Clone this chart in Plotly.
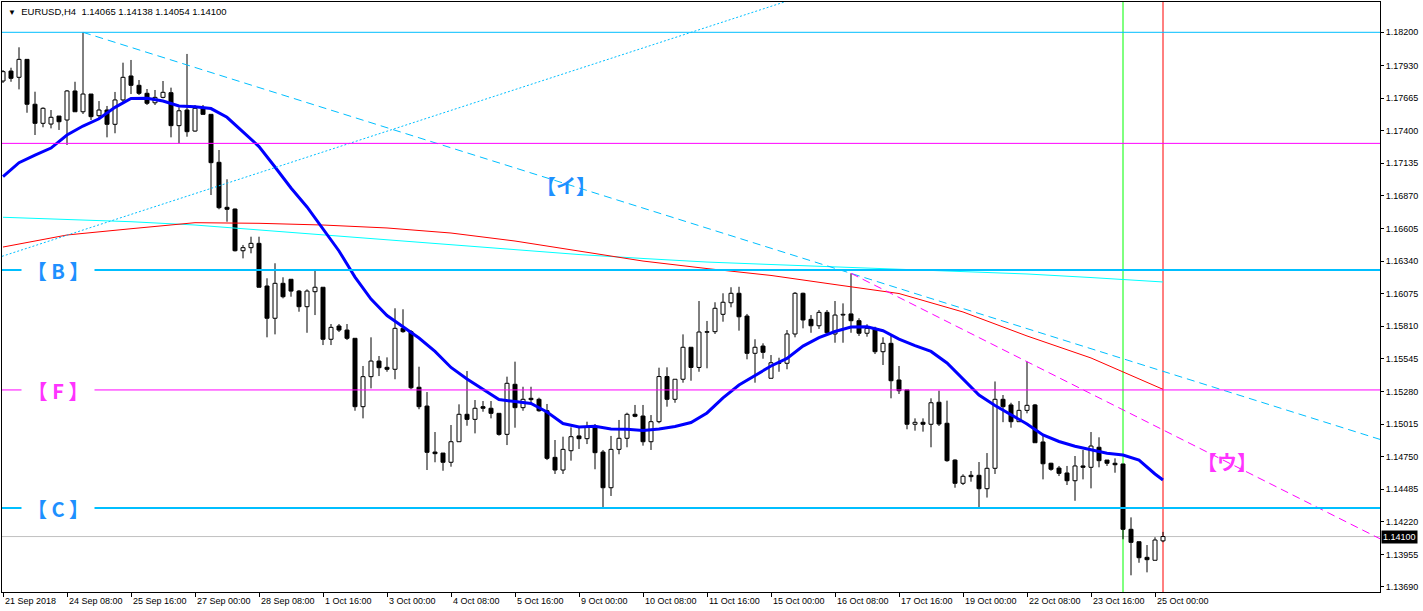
import plotly.graph_objects as go

# ---------------- data ----------------
bars = list(range(146))
open_ = [1.17804,1.17885,1.17834,1.17980,1.17615,1.17460,1.17454,1.17519,1.17487,1.17723,
         1.17554,1.17698,1.17522,1.17568,1.17452,1.17650,1.17845,1.17769,1.17704,1.17627,
         1.17671,1.17709,1.17441,1.17568,1.17397,1.17582,1.17533,1.17143,1.16777,1.16763,
         1.16424,1.16449,1.16484,1.16137,1.15875,1.16159,1.16192,1.16096,1.15969,1.16091,
         1.16127,1.15704,1.15812,1.15779,1.15712,1.15156,1.15400,1.15527,1.15476,1.15460,
         1.15793,1.15766,1.15314,1.15161,1.14787,1.14779,1.14704,1.14871,1.15094,1.15053,
         1.15156,1.15143,1.15102,1.14931,1.15338,1.15148,1.15224,1.15216,1.15123,1.14744,
         1.14641,1.14798,1.14918,1.14896,1.14993,1.14787,1.14497,1.14809,1.14899,1.15094,
         1.15080,1.14871,1.15034,1.15401,1.15216,1.15379,1.15639,1.15475,1.15761,1.15766,
         1.15907,1.16001,1.16078,1.15893,1.15590,1.15649,1.15387,1.15513,1.15509,1.15747,
         1.16078,1.15866,1.15814,1.15923,1.15747,1.15901,1.15910,1.15855,1.15753,1.15793,
         1.15603,1.15671,1.15373,1.15292,1.15013,1.15029,1.15013,1.15192,1.15021,1.14722,
         1.14533,1.14598,1.14598,1.14489,1.14655,1.15216,1.15170,1.15034,1.15126,1.15170,
         1.14869,1.14696,1.14657,1.14617,1.14554,1.14674,1.14663,1.14826,1.14722,1.14696,
         1.14690,1.14159,1.14058,1.13931,1.13907,1.14065]
high_ = [1.17893,1.17912,1.18078,1.17980,1.17717,1.17590,1.17568,1.17519,1.17731,1.17798,
         1.18200,1.17698,1.17641,1.17601,1.17715,1.17953,1.17975,1.17812,1.17739,1.17731,
         1.17804,1.17750,1.17590,1.18024,1.17609,1.17609,1.17533,1.17243,1.17005,1.16767,
         1.16471,1.16538,1.16538,1.16200,1.16322,1.16208,1.16192,1.16105,1.16110,1.16273,
         1.16127,1.15828,1.15828,1.15828,1.15712,1.15487,1.15720,1.15568,1.15557,1.15956,
         1.15948,1.15779,1.15481,1.15275,1.14950,1.14779,1.15007,1.15175,1.15446,1.15210,
         1.15202,1.15202,1.15102,1.15400,1.15522,1.15318,1.15318,1.15229,1.15178,1.14885,
         1.14912,1.14988,1.14988,1.15034,1.15015,1.14804,1.14918,1.15048,1.15107,1.15170,
         1.15170,1.15088,1.15473,1.15476,1.15379,1.15744,1.15639,1.16015,1.15853,1.16005,
         1.16078,1.16127,1.16131,1.15910,1.15704,1.15671,1.15576,1.15554,1.15779,1.16088,
         1.16083,1.15901,1.15942,1.15942,1.16015,1.15996,1.16240,1.15875,1.15826,1.15806,
         1.15720,1.15747,1.15487,1.15292,1.15061,1.15061,1.15224,1.15286,1.15205,1.14728,
         1.14606,1.14633,1.14706,1.14779,1.15361,1.15251,1.15188,1.15202,1.15522,1.15178,
         1.14934,1.14700,1.14674,1.14674,1.14755,1.14804,1.14950,1.14907,1.14722,1.14736,
         1.14690,1.14256,1.14058,1.14031,1.14094,1.14138]
low_ = [1.17788,1.17798,1.17736,1.17546,1.17365,1.17428,1.17419,1.17406,1.17284,1.17554,
        1.17536,1.17487,1.17497,1.17346,1.17379,1.17623,1.17698,1.17690,1.17609,1.17609,
        1.17663,1.17346,1.17297,1.17351,1.17392,1.17533,1.16877,1.16761,1.16660,1.16418,
        1.16362,1.16403,1.16127,1.15720,1.15744,1.16037,1.16050,1.15928,1.15757,1.15901,
        1.15657,1.15657,1.15763,1.15698,1.15123,1.15061,1.15305,1.15405,1.15440,1.15379,
        1.15757,1.15297,1.15135,1.14641,1.14704,1.14635,1.14668,1.14871,1.15001,1.14939,
        1.15115,1.15061,1.14920,1.14844,1.14985,1.15123,1.15170,1.15115,1.14722,1.14609,
        1.14609,1.14717,1.14812,1.14852,1.14647,1.14324,1.14430,1.14769,1.14826,1.15070,
        1.14839,1.14804,1.15021,1.15156,1.15188,1.15351,1.15367,1.15440,1.15468,1.15747,
        1.15847,1.15964,1.15774,1.15541,1.15351,1.15546,1.15387,1.15440,1.15460,1.15720,
        1.15793,1.15757,1.15788,1.15747,1.15676,1.15676,1.15757,1.15731,1.15725,1.15584,
        1.15495,1.15224,1.15259,1.14972,1.14961,1.14953,1.14826,1.14999,1.14708,1.14497,
        1.14519,1.14546,1.14330,1.14417,1.14609,1.15030,1.14985,1.15034,1.15102,1.14863,
        1.14565,1.14635,1.14592,1.14519,1.14391,1.14565,1.14492,1.14663,1.14674,1.14619,
        1.14078,1.13785,1.13887,1.13809,1.13907,1.14054]
close_ = [1.17880,1.17826,1.17980,1.17615,1.17460,1.17582,1.17509,1.17473,1.17723,1.17554,
          1.17698,1.17514,1.17568,1.17452,1.17650,1.17834,1.17769,1.17704,1.17623,1.17671,
          1.17712,1.17441,1.17562,1.17392,1.17582,1.17533,1.17140,1.16774,1.16761,1.16424,
          1.16449,1.16484,1.16127,1.15875,1.16159,1.16050,1.16096,1.15969,1.16096,1.16127,
          1.15704,1.15801,1.15779,1.15712,1.15156,1.15400,1.15527,1.15473,1.15460,1.15793,
          1.15766,1.15310,1.15156,1.14785,1.14774,1.14704,1.14871,1.15094,1.15053,1.15143,
          1.15143,1.15102,1.14931,1.15346,1.15148,1.15216,1.15213,1.15123,1.14736,1.14641,
          1.14809,1.14912,1.14896,1.14993,1.14782,1.14497,1.14809,1.14899,1.15094,1.15078,
          1.14871,1.15034,1.15401,1.15216,1.15379,1.15639,1.15475,1.15763,1.15766,1.15956,
          1.16005,1.16078,1.15887,1.15590,1.15639,1.15598,1.15513,1.15509,1.15747,1.16078,
          1.15861,1.15814,1.15923,1.15757,1.15901,1.15907,1.15855,1.15753,1.15793,1.15603,
          1.15671,1.15367,1.15286,1.15013,1.15029,1.15013,1.15188,1.15015,1.14717,1.14533,
          1.14590,1.14587,1.14489,1.14655,1.15216,1.15156,1.15034,1.15126,1.15167,1.14863,
          1.14692,1.14647,1.14614,1.14554,1.14674,1.14663,1.14836,1.14717,1.14696,1.14684,
          1.14159,1.14053,1.13928,1.13912,1.14072,1.14100]

ma_blue_x = list(range(0, 146, 2)) + [145]
ma_blue = [1.17026,1.17140,1.17202,1.17259,1.17365,1.17438,1.17497,1.17590,1.17662,1.17663,
           1.17641,1.17601,1.17595,1.17580,1.17509,1.17393,1.17271,1.17105,1.16934,1.16780,
           1.16606,1.16422,1.16210,1.16031,1.15897,1.15808,1.15714,1.15605,1.15475,1.15381,
           1.15296,1.15214,1.15198,1.15182,1.15113,1.15019,1.14991,1.14996,1.14974,1.14972,
           1.14962,1.14974,1.14995,1.15027,1.15105,1.15227,1.15332,1.15409,1.15487,1.15549,
           1.15649,1.15718,1.15767,1.15804,1.15806,1.15774,1.15706,1.15653,1.15605,1.15511,
           1.15381,1.15251,1.15166,1.15092,1.15015,1.14926,1.14873,1.14834,1.14808,1.14777,
           1.14763,1.14722,1.14609,1.14560]

ma_red_x = [0, 8, 16, 24, 32, 40, 48, 56, 64, 72, 80, 88, 96, 104, 112, 120, 128, 136, 140, 145]
ma_red = [1.16454,1.16552,1.16603,1.16652,1.16647,1.16633,1.16609,1.16568,1.16503,1.16422,
          1.16340,1.16279,1.16223,1.16149,1.16076,1.15926,1.15731,1.15552,1.15440,1.15297]

ma_aqua_x = [0, 8, 16, 24, 32, 40, 48, 56, 64, 72, 80, 88, 96, 104, 112, 120, 128, 136, 145]
ma_aqua = [1.16696,1.16678,1.16660,1.16633,1.16593,1.16552,1.16511,1.16468,1.16427,1.16393,
           1.16361,1.16332,1.16312,1.16292,1.16275,1.16255,1.16235,1.16206,1.16170]

tick_bars = list(range(0, 145, 8))
tick_text = ["21 Sep 2018", "24 Sep 08:00", "25 Sep 16:00", "27 Sep 00:00", "28 Sep 08:00",
             "1 Oct 16:00", "3 Oct 00:00", "4 Oct 08:00", "5 Oct 16:00", "9 Oct 00:00",
             "10 Oct 08:00", "11 Oct 16:00", "15 Oct 00:00", "16 Oct 08:00", "17 Oct 16:00",
             "19 Oct 00:00", "22 Oct 08:00", "23 Oct 16:00", "25 Oct 00:00"]

price_ticks = [1.18200, 1.17930, 1.17665, 1.17400, 1.17135, 1.16870, 1.16605, 1.16340, 1.16075,
               1.15810, 1.15545, 1.15280, 1.15015, 1.14750, 1.14485, 1.14220, 1.13955, 1.13690]

level_top = 1.18200
level_mag = 1.17297
level_B = 1.16267
level_F = 1.15292
level_C = 1.14332
last_price = 1.14100

trend_i = [(10, 1.18200), (106, 1.16240)]
trend_u = [(106, 1.16240), (128, 1.15522)]
trend_dot = [(0, 1.16381), (96, 1.18411)]

vline_green = 140
vline_red = 145

X_MIN, X_MAX = -0.125, 172.125
Y_MIN, Y_MAX = 1.136492, 1.184464

FONT = "Liberation Sans, Arial, sans-serif"
CJK = "Noto Sans CJK JP"

fig = go.Figure()

# wicks (split around body so they don't cross hollow bodies)
wx, wy = [], []
for i, o, h, l, c in zip(bars, open_, high_, low_, close_):
    top, bot = max(o, c), min(o, c)
    if h > top:
        wx += [i, i, None]; wy += [top, h, None]
    if l < bot:
        wx += [i, i, None]; wy += [bot, l, None]
fig.add_trace(go.Scatter(x=wx, y=wy, mode="lines", line=dict(color="black", width=1),
                         hoverinfo="skip", showlegend=False))

# bodies
for up in (True, False):
    xs, hs, bs = [], [], []
    for i, o, c in zip(bars, open_, close_):
        if (c >= o) == up:
            d = c - o
            if abs(d) < 0.00002:
                d = 0.00002 if up else -0.00002
            xs.append(i); hs.append(d); bs.append(o)
    fig.add_trace(go.Bar(x=xs, y=hs, base=bs, width=0.5,
                         marker=dict(color="white" if up else "black",
                                     line=dict(color="black", width=1)),
                         showlegend=False, hoverinfo="skip"))

# moving averages
fig.add_trace(go.Scatter(x=ma_aqua_x, y=ma_aqua, mode="lines",
                         line=dict(color="#00FFFF", width=1), showlegend=False))
fig.add_trace(go.Scatter(x=ma_red_x, y=ma_red, mode="lines",
                         line=dict(color="#FF0000", width=1), showlegend=False))
fig.add_trace(go.Scatter(x=ma_blue_x, y=ma_blue, mode="lines",
                         line=dict(color="#0000FF", width=3), showlegend=False))


def ray(p0, p1, x_end, x_start=None):
    (x0, y0), (x1, y1) = p0, p1
    s = (y1 - y0) / (x1 - x0)
    xa = x0 if x_start is None else x_start
    return [xa, x_end], [y0 + s * (xa - x0), y0 + s * (x_end - x0)]


xs_, ys_ = ray(*trend_dot, X_MAX, X_MIN)
fig.add_trace(go.Scatter(x=xs_, y=ys_, mode="lines",
                         line=dict(color="#00BFFF", width=1, dash="2px,2px"), showlegend=False))
xs_, ys_ = ray(*trend_i, X_MAX)
fig.add_trace(go.Scatter(x=xs_, y=ys_, mode="lines",
                         line=dict(color="#00BFFF", width=1, dash="8px,5px"), showlegend=False))
xs_, ys_ = ray(*trend_u, X_MAX)
fig.add_trace(go.Scatter(x=xs_, y=ys_, mode="lines",
                         line=dict(color="#FF00FF", width=1, dash="8px,5px"), showlegend=False))

shapes = []
def hline(y, color, width, layer="above"):
    shapes.append(dict(type="line", xref="paper", x0=0, x1=1, yref="y", y0=y, y1=y,
                       line=dict(color=color, width=width), layer=layer))

hline(last_price, "#C0C0C0", 1, "below")
hline(level_top, "#00BFFF", 1)
hline(level_mag, "#FF00FF", 1)
hline(level_B, "#00BFFF", 2)
hline(level_F, "#FF00FF", 1)
hline(level_C, "#00BFFF", 2)
for xv, col in ((vline_green, "#00FF00"), (vline_red, "#FF0000")):
    shapes.append(dict(type="line", xref="x", x0=xv, x1=xv, yref="paper", y0=0, y1=1,
                       line=dict(color=col, width=1), layer="below"))

annotations = []
for tb, tt in zip(tick_bars, tick_text):
    annotations.append(dict(x=tb, y=0, xref="x", yref="paper", text=tt, showarrow=False,
                            xanchor="left", yanchor="top", xshift=0, yshift=-2,
                            font=dict(family=FONT, size=9, color="black")))

for txt, yv, col in (("【 B 】", level_B, "#1E90FF"), ("【 F 】", level_F, "#FF33FF"),
                     ("【 C 】", level_C, "#1E90FF")):
    annotations.append(dict(x=6.9, y=yv, xref="x", yref="y", text="<b>" + txt + "</b>",
                            showarrow=False, bgcolor="white", width=70, height=22,
                            font=dict(family=CJK, size=20, color=col)))

annotations.append(dict(x=70.4, y=1.16958, xref="x", yref="y", text="<b>【イ】</b>",
                        showarrow=False, font=dict(family=CJK, size=20, color="#1E90FF")))
annotations.append(dict(x=153.0, y=1.14714, xref="x", yref="y", text="<b>【ウ】</b>",
                        showarrow=False, font=dict(family=CJK, size=20, color="#FF33FF")))

annotations.append(dict(x=0, y=1, xref="paper", yref="paper",
                        text="<span style='font-size:8px'>▼</span>  EURUSD,H4  1.14065 1.14138 1.14054 1.14100",
                        showarrow=False, xanchor="left", yanchor="top", xshift=4, yshift=-2,
                        font=dict(family=FONT, size=9.5, color="black")))

annotations.append(dict(x=1, y=last_price, xref="paper", yref="y", text="1.14100",
                        showarrow=False, xanchor="left", yanchor="middle", xshift=1,
                        bgcolor="black", borderpad=1,
                        font=dict(family=FONT, size=9, color="white")))

fig.update_layout(
    width=1423, height=611,
    margin=dict(l=2, r=43, t=2, b=19),
    paper_bgcolor="white", plot_bgcolor="white",
    barmode="overlay", showlegend=False,
    shapes=shapes, annotations=annotations,
    xaxis=dict(range=[X_MIN, X_MAX], showgrid=False, zeroline=False,
               tickvals=tick_bars, showticklabels=False, ticks="outside", ticklen=4,
               tickcolor="black", showline=True, linecolor="black", linewidth=1, mirror=True),
    yaxis=dict(range=[Y_MIN, Y_MAX], side="right", showgrid=False, zeroline=False,
               tickvals=price_ticks, ticktext=[f"{v:.5f}" for v in price_ticks],
               ticks="outside", ticklen=3, tickcolor="black",
               tickfont=dict(family=FONT, size=9, color="black"),
               showline=True, linecolor="black", linewidth=1, mirror=True),
)

fig.write_html("out.html", config={"displayModeBar": False},
               post_script="document.body.style.margin='0';document.body.style.overflow='hidden';")
